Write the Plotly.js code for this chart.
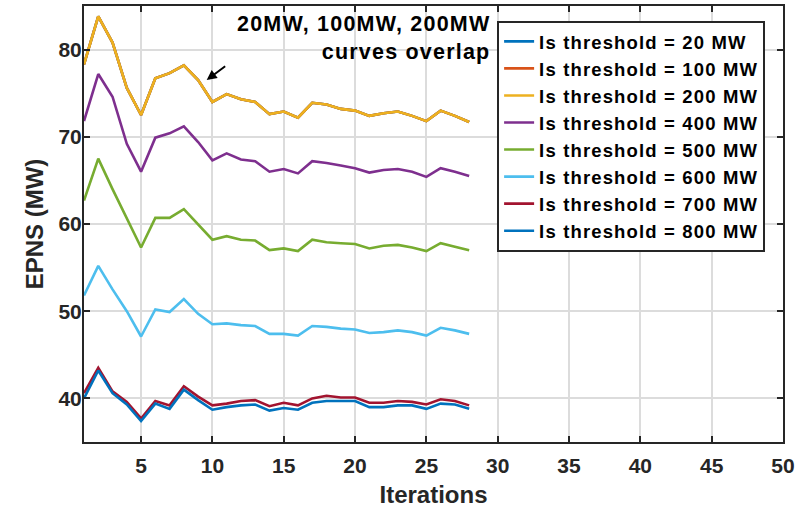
<!DOCTYPE html>
<html>
<head>
<meta charset="utf-8">
<script src="https://cdn.plot.ly/plotly-3.0.1.min.js"></script>
<style>
html,body{margin:0;padding:0;background:#fff;}
#chart{width:811px;height:508px;}
.legendtext{letter-spacing:1.15px;}
.annotation-text{letter-spacing:1.2px;}
</style>
</head>
<body>
<div id="chart"></div>
<script>
const iterations = [1,2,3,4,5,6,7,8,9,10,11,12,13,14,15,16,17,18,19,20,21,22,23,24,25,26,27,28];
const seriesNames = ['Is threshold = 20 MW','Is threshold = 100 MW','Is threshold = 200 MW','Is threshold = 400 MW','Is threshold = 500 MW','Is threshold = 600 MW','Is threshold = 700 MW','Is threshold = 800 MW'];
const epns20  = [78.3,83.8,80.8,75.6,72.5,76.7,77.3,78.2,76.5,74.0,74.9,74.3,74.0,72.6,72.9,72.2,73.9,73.7,73.2,73.0,72.4,72.7,72.9,72.4,71.8,73.0,72.4,71.7];
const epns100 = [78.3,83.8,80.8,75.6,72.5,76.7,77.3,78.2,76.5,74.0,74.9,74.3,74.0,72.6,72.9,72.2,73.9,73.7,73.2,73.0,72.4,72.7,72.9,72.4,71.8,73.0,72.4,71.7];
const epns200 = [78.3,83.8,80.8,75.6,72.5,76.7,77.3,78.2,76.5,74.0,74.9,74.3,74.0,72.6,72.9,72.2,73.9,73.7,73.2,73.0,72.4,72.7,72.9,72.4,71.8,73.0,72.4,71.7];
const epns400 = [71.8,77.2,74.6,69.2,66.0,69.9,70.4,71.2,69.4,67.3,68.1,67.4,67.2,66.0,66.3,65.8,67.2,67.0,66.7,66.4,65.9,66.2,66.3,66.0,65.4,66.4,66.0,65.5];
const epns500 = [62.7,67.5,64.0,60.6,57.3,60.7,60.7,61.7,60.0,58.2,58.6,58.2,58.1,57.0,57.2,56.9,58.2,57.9,57.8,57.7,57.2,57.5,57.6,57.3,56.9,57.8,57.4,57.0];
const epns600 = [51.8,55.2,52.5,50.0,47.1,50.2,49.9,51.4,49.7,48.5,48.6,48.4,48.3,47.4,47.4,47.2,48.3,48.2,48.0,47.9,47.5,47.6,47.8,47.6,47.2,48.1,47.8,47.4];
const epns700 = [40.6,43.5,40.8,39.6,37.7,39.7,39.2,41.4,40.2,39.2,39.4,39.7,39.8,39.1,39.5,39.2,40.0,40.3,40.1,40.1,39.5,39.5,39.7,39.6,39.3,39.9,39.7,39.2];
const epns800 = [40.0,43.2,40.6,39.3,37.4,39.4,38.8,41.0,39.8,38.7,39.0,39.2,39.3,38.6,38.9,38.7,39.5,39.7,39.7,39.7,39.0,39.0,39.2,39.2,38.8,39.4,39.3,38.8];
const seriesValues = [epns20, epns100, epns200, epns400, epns500, epns600, epns700, epns800];
const colors = ['#0072BD','#D95319','#EDB120','#7E2F8E','#77AC30','#4DBEEE','#A2142F','#0072BD'];
const xTicks = [5,10,15,20,25,30,35,40,45,50];
const yTicks = [40,50,60,70,80];

const FONT = 'Liberation Sans, Arial, Helvetica, sans-serif';
const DARK = '#262626';

const traces = seriesValues.map((v, i) => ({
  x: iterations, y: v, type: 'scatter', mode: 'lines', name: seriesNames[i],
  line: {color: colors[i], width: 2.6}
}));

const axisCommon = {
  showline: true, mirror: 'ticks', linecolor: DARK, linewidth: 2,
  ticks: 'inside', ticklen: 6, tickwidth: 2, tickcolor: DARK,
  showgrid: true, gridcolor: '#dcdcdc', gridwidth: 2,
  zeroline: false,
  tickfont: {family: FONT, size: 21, color: DARK, weight: 'bold'}
};

const layout = {
  width: 811, height: 508,
  margin: {l: 84, r: 28, t: 6, b: 66},
  paper_bgcolor: '#fff', plot_bgcolor: '#fff',
  showlegend: true,
  xaxis: Object.assign({}, axisCommon, {
    range: [1, 50], tickmode: 'array', tickvals: xTicks, ticktext: xTicks.map(String),
    ticklabelstandoff: 4,
    title: {text: '<b>Iterations</b>', font: {family: FONT, size: 24, color: DARK}, standoff: 18}
  }),
  yaxis: Object.assign({}, axisCommon, {
    range: [35, 85], tickmode: 'array', tickvals: yTicks, ticktext: yTicks.map(String),
    ticklabelstandoff: -4,
    title: {text: '<b>EPNS (MW)</b>', font: {family: FONT, size: 24, color: DARK}, standoff: 8}
  }),
  legend: {
    x: 0.591, y: 0.966, xanchor: 'left', yanchor: 'top',
    bgcolor: '#fff', bordercolor: DARK, borderwidth: 2,
    font: {family: FONT, size: 18.5, color: '#000', weight: 'bold'},
    tracegroupgap: 0, itemwidth: 30
  },
  annotations: [
    {
      xref: 'paper', yref: 'paper', x: 0.583, y: 0.926, xanchor: 'right', yanchor: 'middle',
      align: 'right', showarrow: false,
      text: '<b>20MW, 100MW, 200MW</b><br><b>curves overlap</b>',
      font: {family: FONT, size: 21.5, color: '#000'}
    },
    {
      xref: 'x', yref: 'y', x: 9.6, y: 76.5, ax: 20, ay: -15, text: '',
      showarrow: true, arrowhead: 2, arrowsize: 1, arrowwidth: 2, arrowcolor: '#000', standoff: 0
    }
  ]
};

Plotly.newPlot('chart', traces, layout, {displayModeBar: false, staticPlot: true});
</script>
</body>
</html>
